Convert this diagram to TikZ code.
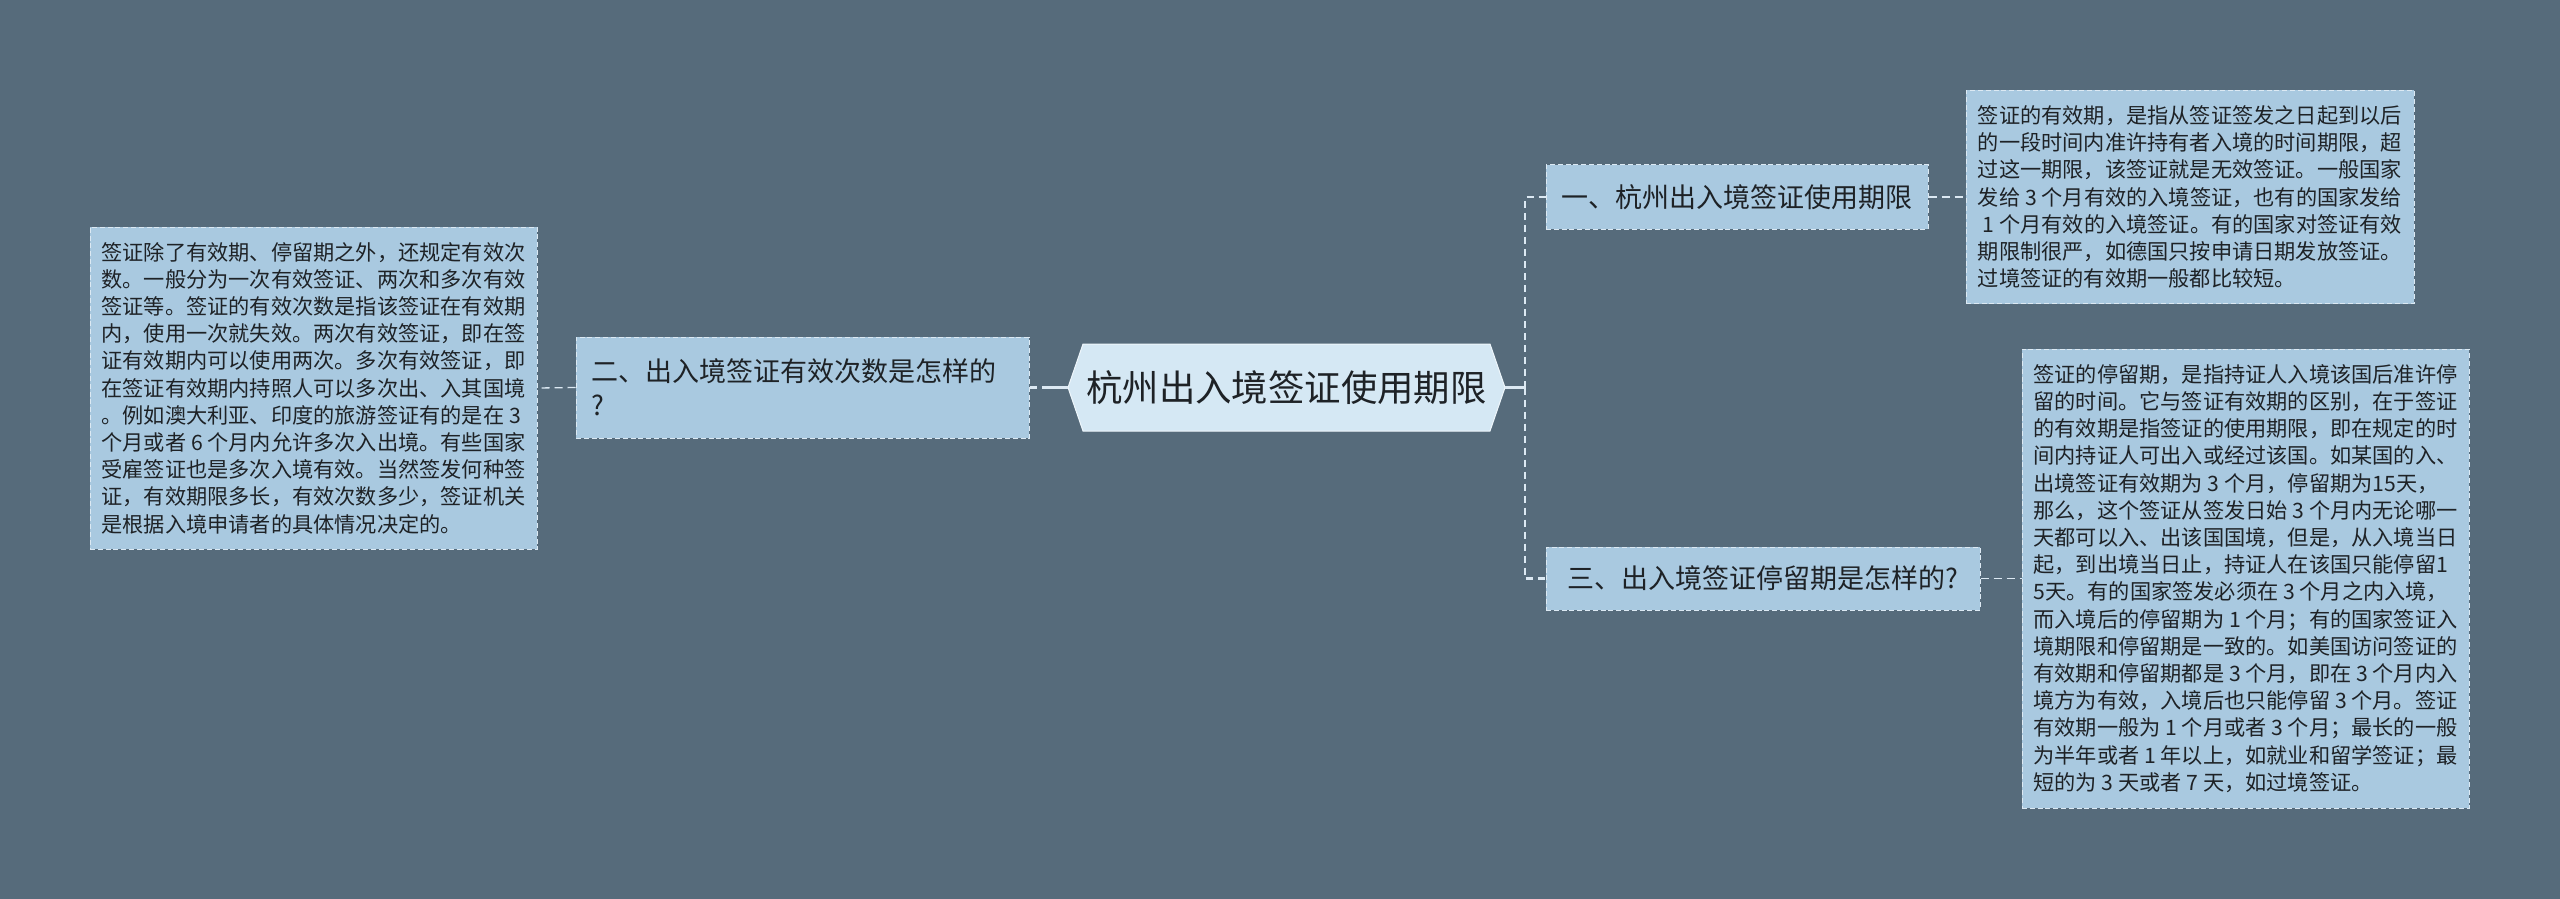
\documentclass[tikz,border=0pt]{standalone}
\usepackage{fontspec}
\setmainfont{Noto Sans CJK SC}
\definecolor{bg}{HTML}{566B7B}
\definecolor{leaffill}{HTML}{A9C9E0}
\definecolor{centerfill}{HTML}{D5E8F4}
\definecolor{edge}{HTML}{DCE9F3}
\definecolor{ink}{HTML}{1E2226}
\tikzset{
  box/.style={fill=leaffill, draw=edge, line width=0.5pt, dash pattern=on 2.5pt off 1.4pt, inner sep=0pt, text=ink},
  leafbox/.style={box, align=left, font=\fontsize{10.6pt}{13.6pt}\selectfont},
  branchbox/.style={box, align=left, font=\fontsize{13.5pt}{17pt}\selectfont},
  trunk/.style={draw=edge, line width=1.35pt},
  trunkdash/.style={draw=edge, line width=1.35pt, dash pattern=on 3.5pt off 2.5pt},
  twig/.style={draw=edge, line width=0.65pt, dash pattern=on 4pt off 2.5pt},
}
\begin{document}
\begin{tikzpicture}[x=0.5pt,y=-0.5pt]
\fill[bg] (0,0) rectangle (2560,899);
\useasboundingbox (0,0) rectangle (2560,899);

% central hexagon
\filldraw[fill=centerfill, draw=white!60!centerfill, line width=0.5pt]
  (1068,387.5) -- (1083,344) -- (1490,344) -- (1505,387.5) -- (1490,431) -- (1083,431) -- cycle;
\node[inner sep=0pt, minimum width=218.5pt, minimum height=43.5pt, text=ink,
      font=\fontsize{18.2pt}{22pt}\selectfont] (c) at (1286.5,387.5) {杭州出入境签证使用期限};

% branches
\node[branchbox, text width=211.5pt, inner xsep=7.5pt, minimum height=50.5pt] (b2) at (802.5,387.5)
  {二、出入境签证有效次数是怎样的\\?};
\node[branchbox, minimum width=191pt, minimum height=32pt] (b1) at (1737,197)
  {一、杭州出入境签证使用期限};
\node[branchbox, minimum width=217pt, minimum height=31.5pt] (b3) at (1763,578.5)
  {三、出入境签证停留期是怎样的?};

% leaves
\node[leafbox, minimum width=223.5pt, minimum height=161pt] (l2) at (313.5,388)
  {签证除了有效期、停留期之外，还规定有效次\\
数。一般分为一次有效签证、两次和多次有效\\
签证等。签证的有效次数是指该签证在有效期\\
内，使用一次就失效。两次有效签证，即在签\\
证有效期内可以使用两次。多次有效签证，即\\
在签证有效期内持照人可以多次出、入其国境\\
。例如澳大利亚、印度的旅游签证有的是在 3\\
个月或者 6 个月内允许多次入出境。有些国家\\
受雇签证也是多次入境有效。当然签发何种签\\
证，有效期限多长，有效次数多少，签证机关\\
是根据入境申请者的具体情况决定的。};

\node[leafbox, minimum width=224pt, minimum height=106.5pt] (l1) at (2190,197)
  {签证的有效期，是指从签证签发之日起到以后\\
的一段时间内准许持有者入境的时间期限，超\\
过这一期限，该签证就是无效签证。一般国家\\
发给 3 个月有效的入境签证，也有的国家发给\\
\ 1 个月有效的入境签证。有的国家对签证有效\\
期限制很严，如德国只按申请日期发放签证。\\
过境签证的有效期一般都比较短。};

\node[leafbox, minimum width=223.5pt, minimum height=229.5pt] (l3) at (2245.5,578.5)
  {签证的停留期，是指持证人入境该国后准许停\\
留的时间。它与签证有效期的区别，在于签证\\
的有效期是指签证的使用期限，即在规定的时\\
间内持证人可出入或经过该国。如某国的入、\\
出境签证有效期为 3 个月，停留期为15天，\\
那么，这个签证从签发日始 3 个月内无论哪一\\
天都可以入、出该国国境，但是，从入境当日\\
起，到出境当日止，持证人在该国只能停留1\\
5天。有的国家签发必须在 3 个月之内入境，\\
而入境后的停留期为 1 个月；有的国家签证入\\
境期限和停留期是一致的。如美国访问签证的\\
有效期和停留期都是 3 个月，即在 3 个月内入\\
境方为有效，入境后也只能停留 3 个月。签证\\
有效期一般为 1 个月或者 3 个月；最长的一般\\
为半年或者 1 年以上，如就业和留学签证；最\\
短的为 3 天或者 7 天，如过境签证。};

% connectors
\coordinate (jr) at (1525,387.5);
\coordinate (jl) at (1049,387.5);
\draw[trunk] (c.east) -- (jr);
\draw[trunkdash] (jr) |- (b1.west);
\draw[trunkdash] (jr) |- (b3.west);
\draw[trunk] (c.west) -- (jl);
\draw[trunkdash] (jl) -- (b2.east);
\draw[twig] (b2.west) -- (l2.east);
\draw[twig] (b1.east) -- (l1.west);
\draw[twig] (b3.east) -- (l3.west);
\end{tikzpicture}
\end{document}
